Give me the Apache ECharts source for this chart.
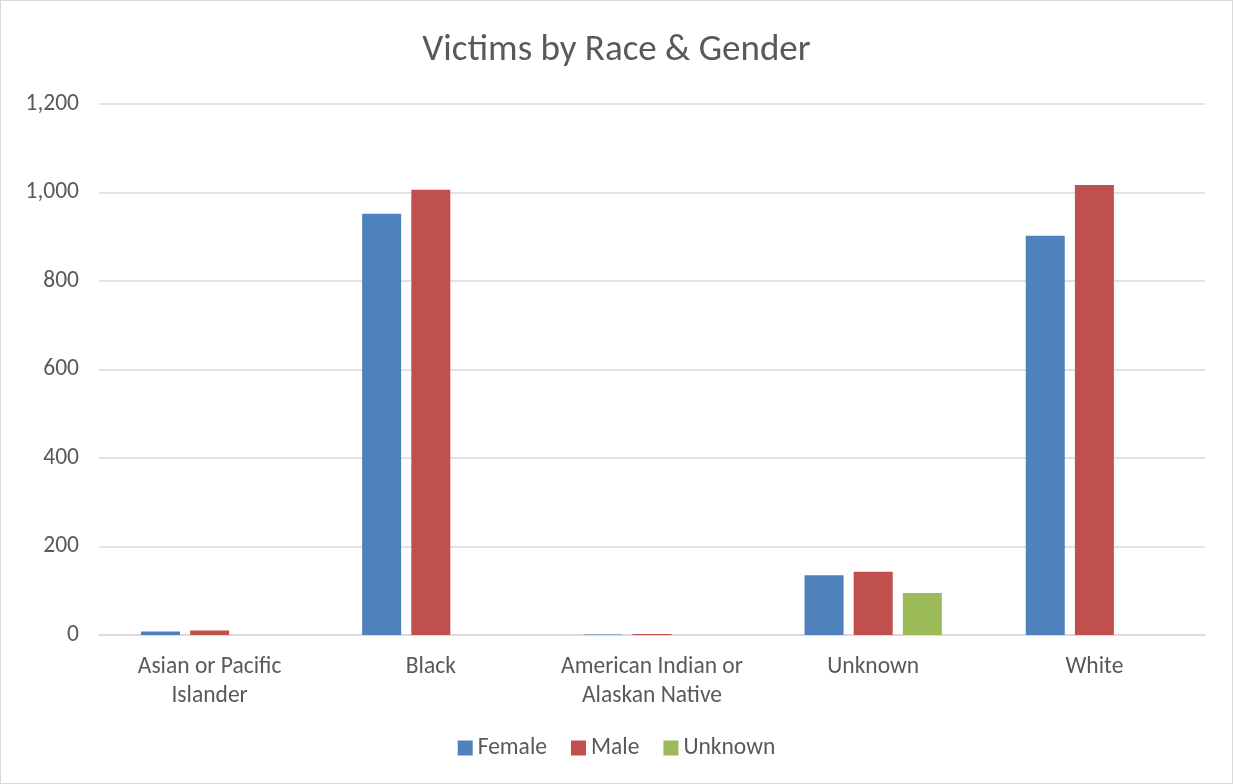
<!DOCTYPE html>
<html><head><meta charset="utf-8">
<script src="https://cdn.jsdelivr.net/npm/echarts@6/dist/echarts.min.js"></script>
<style>html,body{margin:0;padding:0;background:#fff}#c{width:1233px;height:784px;box-sizing:border-box;border:1px solid #d9d9d9}</style>
</head><body><div id="c"></div>
<script>
const categories = ['Asian or Pacific\nIslander', 'Black', 'American Indian or\nAlaskan Native', 'Unknown', 'White'];
const female = [8, 952, 1, 135, 902];
const male = [10, 1006, 2, 143, 1017];
const unknown = [0, 0, 0, 95, 0];
const yTicks = [0, 200, 400, 600, 800, 1000, 1200];

const font = 'Calibri, Carlito, "Open Sans", sans-serif';
const chart = echarts.init(document.getElementById('c'));
const mk = (name, data, color) => ({
  name, type: 'bar', data, barWidth: 39, barGap: '26%',
  itemStyle: { color },
  emphasis: { disabled: true }
});
chart.setOption({
  animation: false,
  title: { text: 'Victims by Race & Gender', left: 'center', top: 26,
    textStyle: { fontFamily: font, fontSize: 37, fontWeight: 'normal', color: '#595959' } },
  legend: { bottom: 18, left: 'center', itemWidth: 15, itemHeight: 15, itemGap: 24,
    icon: 'rect', textStyle: { fontFamily: font, fontSize: 23.5, color: '#595959' } },
  grid: { left: 98, right: 27, top: 103, bottom: 148 },
  xAxis: { type: 'category', data: categories,
    axisLine: { lineStyle: { color: '#d9d9d9', width: 1.5 } }, axisTick: { show: false },
    axisLabel: { interval: 0, hideOverlap: false, fontFamily: font, fontSize: 23.5, color: '#595959', margin: 18, lineHeight: 29 } },
  yAxis: { type: 'value', min: yTicks[0], max: yTicks[yTicks.length - 1], interval: 200,
    axisLine: { show: false }, axisTick: { show: false },
    splitLine: { lineStyle: { color: '#d9d9d9', width: 1.5 } },
    axisLabel: { fontFamily: font, fontSize: 23.5, color: '#595959', margin: 20,
      formatter: v => v.toLocaleString('en-US') } },
  series: [ mk('Female', female, '#4f81bd'), mk('Male', male, '#c0504d'), mk('Unknown', unknown, '#9bbb59') ]
});
</script></body></html>
